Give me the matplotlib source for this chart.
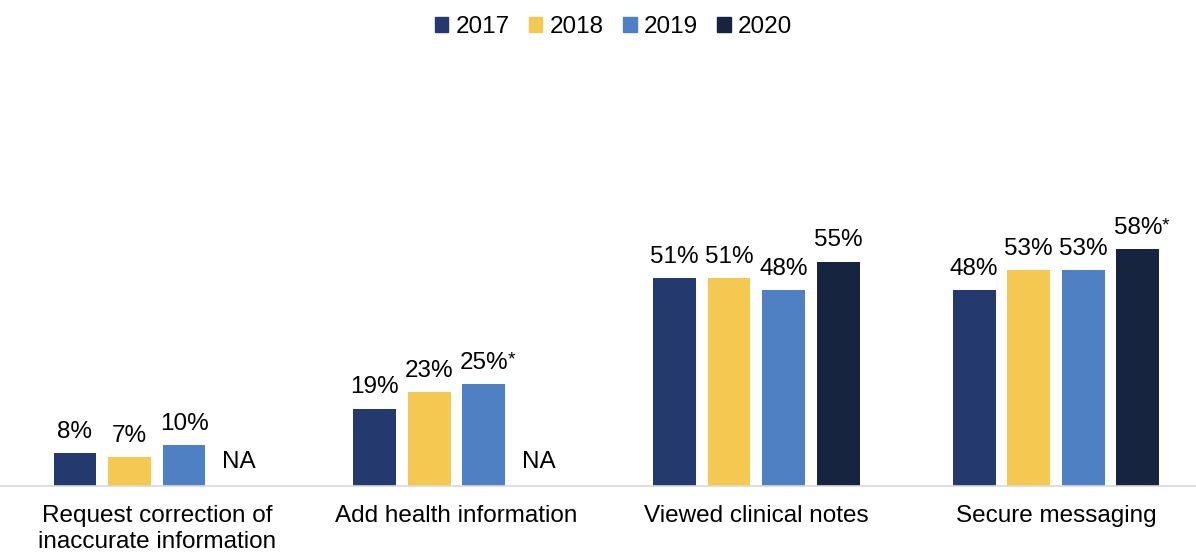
import numpy as np
import matplotlib.pyplot as plt

plt.rcParams['font.family'] = ['Liberation Sans', 'DejaVu Sans']

categories = ["Request correction of\ninaccurate information", "Add health information",
              "Viewed clinical notes", "Secure messaging"]
years = ["2017", "2018", "2019", "2020"]
values = {
    "2017": [8, 19, 51, 48],
    "2018": [7, 23, 51, 53],
    "2019": [10, 25, 48, 53],
    "2020": [None, None, 55, 58],
}
starred = {("2019", 1), ("2020", 3)}
colors = ["#243A6E", "#F5C851", "#4F80C4", "#172440"]

fig = plt.figure(figsize=(11.96, 5.54), dpi=100)
ax = fig.add_axes([0, 0.1227, 1, 0.7365])

x = np.arange(len(categories))
width = 0.143
step = 0.182
fs = 17.5

for i, (yr, col) in enumerate(zip(years, colors)):
    pos = x + (i - 1.5) * step
    for j, v in enumerate(values[yr]):
        if v is None:
            ax.text(pos[j], 6, "NA", ha="center", va="center", fontsize=fs)
            continue
        ax.bar(pos[j], v, width=width, color=col)
        t = ax.text(pos[j], v + 2.5, f"{v}%", ha="center", va="bottom", fontsize=fs)
        if (yr, j) in starred:
            ax.annotate("*", xy=(1, 1), xycoords=t, ha="left", va="top", fontsize=14)

handles = [plt.Rectangle((0, 0), 1, 1, color=c) for c in colors]
fig.legend(handles, years, loc="upper center", bbox_to_anchor=(0.513, 1.01), ncol=4,
           frameon=False, fontsize=fs, handlelength=0.55, handleheight=0.55,
           handletextpad=0.3, columnspacing=0.8)

ax.set_xlim(-0.523, 3.467)
ax.set_ylim(0, 100)
ax.set_xticks(x)
ax.set_xticklabels(categories, fontsize=fs, linespacing=1.2)
ax.tick_params(axis="x", length=0, pad=14)
ax.set_yticks([])
for s in ["top", "left", "right"]:
    ax.spines[s].set_visible(False)
ax.spines["bottom"].set_color("#D9D9D9")
ax.spines["bottom"].set_linewidth(1.2)

fig.savefig("out.png", dpi=100)
